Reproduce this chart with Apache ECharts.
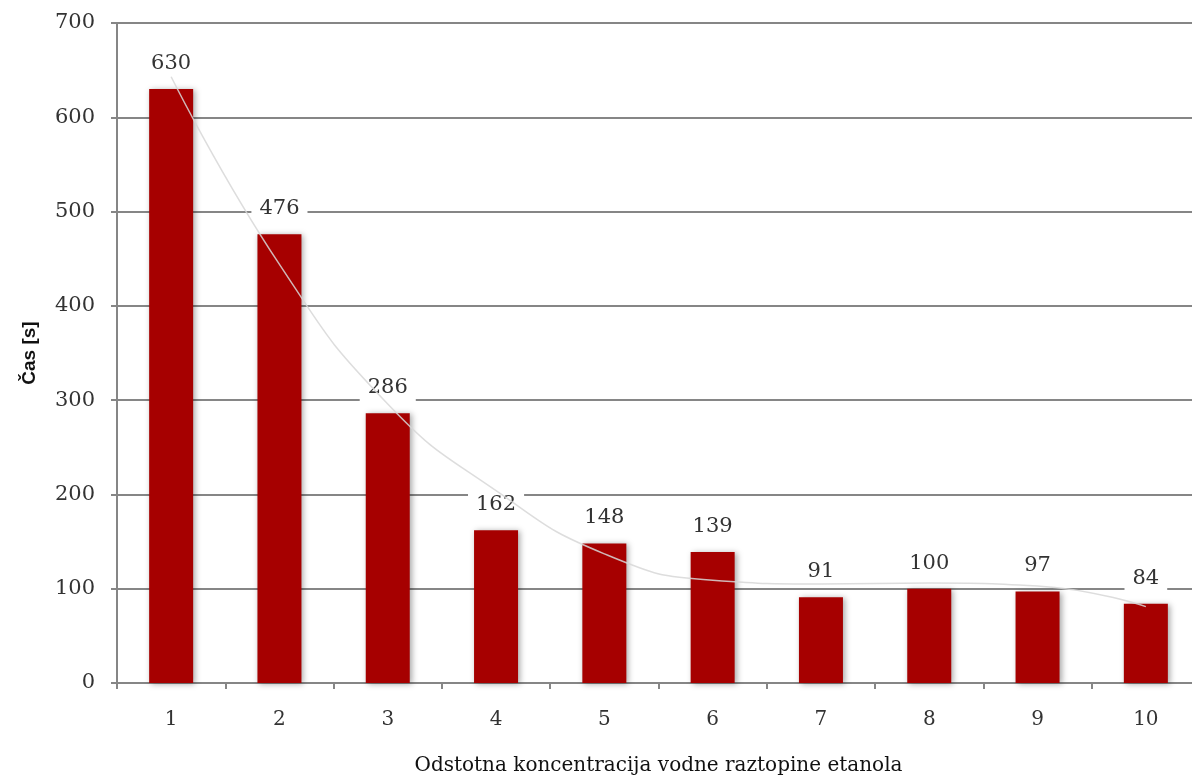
<!DOCTYPE html>
<html>
<head>
<meta charset="utf-8">
<script src="https://cdn.jsdelivr.net/npm/echarts@6/dist/echarts.min.js"></script>
<style>
  html, body { margin: 0; padding: 0; background: #fff; }
  #chart { width: 1192px; height: 778px; }
</style>
</head>
<body>
<div id="chart"></div>
<script>
// Ethanol concentration categories and measured times
const categories = ['1', '2', '3', '4', '5', '6', '7', '8', '9', '10'];
const times = [630, 476, 286, 162, 148, 139, 91, 100, 97, 84];
// Smoothed trend line through the measurements
const trendValues = [643, 444, 296, 204, 137, 109, 105, 106, 103, 81];
const yTicks = { min: 0, max: 700, interval: 100 };

const serif = '"DejaVu Serif", "Liberation Serif", serif';
const axisGray = '#868686';

const chart = echarts.init(document.getElementById('chart'), null, { renderer: 'canvas' });

chart.setOption({
  animation: false,
  backgroundColor: '#ffffff',
  grid: { left: 117, right: -8, top: 23, bottom: 95, containLabel: false, outerBoundsMode: 'none' },
  xAxis: {
    type: 'category',
    data: categories,
    boundaryGap: true,
    name: 'Odstotna koncentracija vodne raztopine etanola',
    nameLocation: 'middle',
    nameGap: 73,
    nameTextStyle: { fontFamily: serif, fontSize: 20, color: '#111' },
    axisLine: { show: true, lineStyle: { color: axisGray, width: 2 } },
    axisTick: { show: true, alignWithLabel: false, length: 6, lineStyle: { color: axisGray, width: 2 } },
    axisLabel: { fontFamily: serif, fontSize: 20, color: '#333', margin: 27 },
    splitLine: { show: false }
  },
  yAxis: {
    type: 'value',
    min: yTicks.min,
    max: yTicks.max,
    interval: yTicks.interval,
    name: 'Čas [s]',
    nameLocation: 'middle',
    nameGap: 78,
    nameRotate: 90,
    nameTextStyle: { fontFamily: '"Liberation Sans", Arial, sans-serif', fontSize: 19, fontWeight: 'bold', color: '#111' },
    axisLine: { show: true, lineStyle: { color: axisGray, width: 2 } },
    axisTick: { show: true, length: 6, lineStyle: { color: axisGray, width: 2 } },
    axisLabel: { fontFamily: serif, fontSize: 21, color: '#333', margin: 22 },
    splitLine: { show: true, lineStyle: { color: axisGray, width: 2 } }
  },
  series: [
    {
      name: 'Čas',
      type: 'bar',
      data: times,
      barWidth: 44,
      itemStyle: {
        color: '#a60000',
        shadowBlur: 6,
        shadowColor: 'rgba(0,0,0,0.35)',
        shadowOffsetX: 2,
        shadowOffsetY: 1
      },
      label: {
        show: true,
        position: 'top',
        distance: 12,
        fontFamily: serif,
        fontSize: 21,
        color: '#333',
        backgroundColor: '#ffffff',
        padding: [3, 8]
      },
      z: 2
    },
    {
      name: 'Trend',
      type: 'line',
      data: trendValues,
      smooth: 0.5,
      symbol: 'none',
      lineStyle: { color: 'rgba(215,215,215,0.85)', width: 1.5 },
      z: 3,
      silent: true
    }
  ]
});
</script>
</body>
</html>
